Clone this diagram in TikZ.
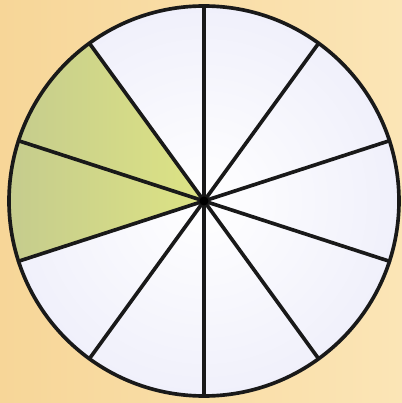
\documentclass[tikz,border=0pt]{standalone}
\usepackage{xcolor}
\usepackage{tikz}
\usetikzlibrary{calc}
\definecolor{paper}{HTML}{FBE5B6}
\definecolor{paperdark}{HTML}{F7D698}
\definecolor{olive}{HTML}{C3CA8E}
\definecolor{lime}{HTML}{DDE384}
\definecolor{lavender}{HTML}{E6E6F8}

\begin{document}
\begin{tikzpicture}[
  x=0.025cm, y=0.025cm,
  spoke/.style={line width=2.6pt, black!90, line cap=round},
  rim/.style={draw=black!90, line width=2.6pt}
]
\useasboundingbox (0,0) rectangle (402,403);
\shade[left color=paperdark, right color=paper] (0,0) rectangle (402,403);

\coordinate (c) at (204,202);
\shade[inner color=white, outer color=lavender!60] (c) circle (195);

% the two shaded tenths
\shade[left color=olive, right color=lime] (c) -- ($(c)+(126:195)$) arc[start angle=126, end angle=198, radius=195] -- cycle;

\foreach \i in {0,...,9}{
  \coordinate (p\i) at ($(c)+({90-36*\i}:195)$);
  \draw[spoke] (c) -- (p\i);
}
\draw[rim] (c) circle (195);
\fill[black] (c) circle (4.5);
\end{tikzpicture}
\end{document}
